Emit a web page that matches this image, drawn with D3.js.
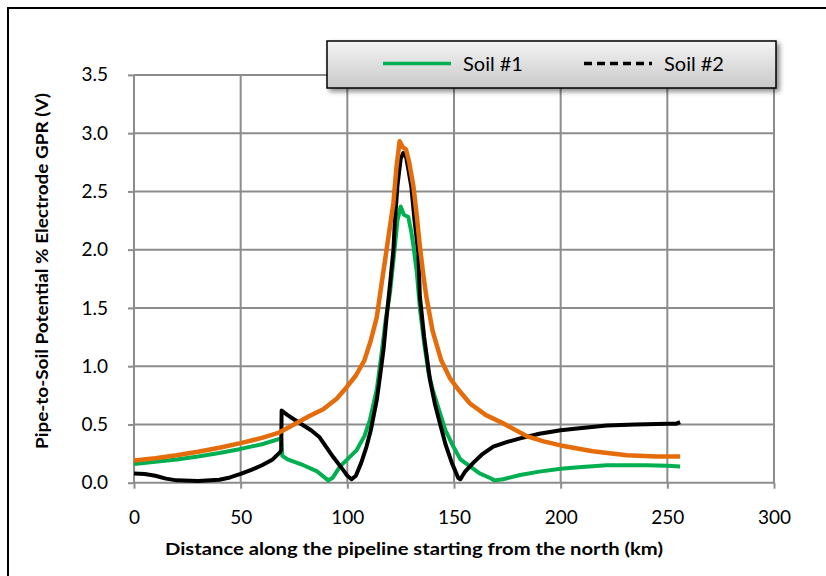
<!DOCTYPE html>
<html>
<head>
<meta charset="utf-8">
<script src="https://cdn.jsdelivr.net/npm/d3@7"></script>
<style>
  body { margin: 0; background: #fff; }
  text { font-family: Lato, "Open Sans", sans-serif; fill: #000; }
</style>
</head>
<body>
<svg width="826" height="576"></svg>
<script>
// Soil #1 (green)
var soil1Km = [0, 10, 20, 30, 40, 50, 60, 69, 69.5, 72, 79.4, 85.6, 89, 91, 93, 96.6, 100, 104.4, 108, 110.6, 113.8, 116, 118, 120, 122.3, 123.5, 125, 126.5, 128.6, 130, 131, 132.6, 134, 136, 138, 140, 143.4, 146, 149.7, 153, 157.5, 162, 166.9, 169, 173, 181, 190, 200, 210, 221.6, 240, 250, 256];
var soil1V = [0.16, 0.18, 0.2, 0.225, 0.255, 0.29, 0.33, 0.38, 0.23, 0.2, 0.15, 0.1, 0.05, 0.02, 0.04, 0.14, 0.2, 0.28, 0.4, 0.54, 0.8, 1.1, 1.4, 1.63, 2.03, 2.25, 2.37, 2.3, 2.28, 2.15, 2.03, 1.8, 1.5, 1.2, 0.95, 0.8, 0.6, 0.45, 0.31, 0.2, 0.14, 0.08, 0.04, 0.02, 0.03, 0.066, 0.095, 0.12, 0.135, 0.15, 0.15, 0.145, 0.14];

// Soil #2 (black)
var soil2Km = [0, 5, 10, 15, 20, 30, 40, 45, 50, 55, 60, 65, 68.4, 69, 69.2, 72, 77.8, 83, 87, 90, 93.4, 98, 100, 102, 104, 106.5, 109, 111, 113.8, 115.3, 117, 118.4, 120, 121.6, 122.3, 123.5, 125, 126.2, 127.5, 128.5, 130, 131.5, 133.3, 134, 136, 138.75, 141, 143.4, 146, 149, 152, 153, 155, 159, 163, 168.4, 175, 181, 190, 200, 210, 221.6, 235, 250, 254, 256];
var soil2V = [0.08, 0.075, 0.06, 0.035, 0.02, 0.015, 0.025, 0.045, 0.075, 0.11, 0.15, 0.2, 0.26, 0.28, 0.62, 0.58, 0.51, 0.45, 0.39, 0.31, 0.22, 0.11, 0.06, 0.03, 0.06, 0.17, 0.31, 0.45, 0.71, 0.91, 1.15, 1.42, 1.7, 2.0, 2.25, 2.55, 2.78, 2.83, 2.8, 2.7, 2.54, 2.25, 1.97, 1.6, 1.25, 0.88, 0.68, 0.51, 0.33, 0.17, 0.04, 0.03, 0.09, 0.17, 0.24, 0.31, 0.35, 0.38, 0.42, 0.45, 0.47, 0.49, 0.5, 0.505, 0.505, 0.52];

// third series (orange, not in legend)
var orangeKm = [0, 10, 20, 30, 40, 50, 60, 68, 75, 82, 88.7, 95, 99.7, 104, 108, 111, 113.8, 116, 118.4, 120, 121.6, 123, 124.5, 126, 127.5, 129, 131, 132.5, 134, 135.5, 137, 140, 144, 148, 152, 157.5, 165, 173, 184, 192, 200, 215, 231, 245, 256];
var orangeV = [0.19, 0.21, 0.235, 0.265, 0.3, 0.34, 0.385, 0.43, 0.5, 0.57, 0.63, 0.72, 0.82, 0.92, 1.05, 1.22, 1.42, 1.7, 2.0, 2.2, 2.4, 2.7, 2.93, 2.88, 2.86, 2.75, 2.54, 2.3, 2.03, 1.8, 1.6, 1.3, 1.05, 0.9, 0.8, 0.68, 0.58, 0.51, 0.4, 0.355, 0.32, 0.27, 0.235, 0.225, 0.225];

var xTicks = [0, 50, 100, 150, 200, 250, 300];
var yTicks = [0, 0.5, 1.0, 1.5, 2.0, 2.5, 3.0, 3.5];

var svg = d3.select("svg");

// chart frame
svg.append("rect")
    .attr("x", 8).attr("y", 8)
    .attr("width", 840).attr("height", 600)
    .attr("fill", "#fff")
    .attr("stroke", "#000")
    .attr("stroke-width", 2);

var x = d3.scaleLinear().domain([0, 300]).range([134, 774]);
var y = d3.scaleLinear().domain([0, 3.5]).range([482.7, 74.9]);

var grid = "#8c8c8c";

// gridlines
svg.append("g")
    .selectAll("line")
    .data(xTicks.slice(1))
    .enter()
    .append("line")
    .attr("x1", function (d) { return x(d); })
    .attr("x2", function (d) { return x(d); })
    .attr("y1", y(3.5)).attr("y2", y(0))
    .attr("stroke", grid).attr("stroke-width", 2);

svg.append("g")
    .selectAll("line")
    .data(yTicks.slice(1))
    .enter()
    .append("line")
    .attr("x1", x(0)).attr("x2", x(300))
    .attr("y1", function (d) { return y(d); })
    .attr("y2", function (d) { return y(d); })
    .attr("stroke", grid).attr("stroke-width", 2);

// axes
var x_axis = d3.axisBottom(x)
    .tickValues(xTicks)
    .tickSize(6)
    .tickPadding(22)
    .tickFormat(d3.format("d"));

var gx = svg.append("g")
    .attr("transform", "translate(0," + y(0) + ")")
    .call(x_axis);

var y_axis = d3.axisLeft(y)
    .tickValues(yTicks)
    .tickSize(6)
    .tickPadding(20)
    .tickFormat(d3.format(".1f"));

var gy = svg.append("g")
    .attr("transform", "translate(" + x(0) + ",0)")
    .call(y_axis);

[gx, gy].forEach(function (g) {
    g.select(".domain").attr("stroke", grid).attr("stroke-width", 2);
    g.selectAll(".tick line").attr("stroke", grid).attr("stroke-width", 2);
    g.selectAll(".tick text")
        .attr("font-family", "Lato, sans-serif")
        .attr("font-size", 19)
        .attr("fill", "#000");
});
gy.select(".domain").attr("d", "M0," + y(3.5) + "V" + y(0));
gx.select(".domain").attr("d", "M" + x(0) + ",0H" + x(300));

// series
var line = d3.line()
    .x(function (d) { return x(d[0]); })
    .y(function (d) { return y(d[1]); });

function draw(km, v, color, w) {
    svg.append("path")
        .datum(d3.zip(km, v))
        .attr("d", line)
        .attr("fill", "none")
        .attr("stroke", color)
        .attr("stroke-width", w)
        .attr("stroke-linejoin", "round");
}

draw(soil1Km, soil1V, "#00b050", 4);
draw(soil2Km, soil2V, "#000000", 4);
draw(orangeKm, orangeV, "#e46c0a", 4.5);

// axis titles
svg.append("text")
    .attr("transform", "translate(48,271) rotate(-90)")
    .attr("text-anchor", "middle")
    .attr("font-size", 17)
    .attr("font-weight", "bold")
    .attr("textLength", 356)
    .attr("lengthAdjust", "spacingAndGlyphs")
    .text("Pipe-to-Soil Potential % Electrode GPR (V)");

svg.append("text")
    .attr("x", 414).attr("y", 555)
    .attr("text-anchor", "middle")
    .attr("font-size", 17)
    .attr("font-weight", "bold")
    .attr("textLength", 498)
    .attr("lengthAdjust", "spacingAndGlyphs")
    .text("Distance along the pipeline starting from the north (km)");

// legend
var defs = svg.append("defs");
var grad = defs.append("linearGradient")
    .attr("id", "lg").attr("x1", 0).attr("y1", 0).attr("x2", 0).attr("y2", 1);
grad.append("stop").attr("offset", "0%").attr("stop-color", "#f4f4f4");
grad.append("stop").attr("offset", "100%").attr("stop-color", "#c9c9c9");
defs.append("filter")
    .attr("id", "sh").attr("x", "-10%").attr("y", "-30%").attr("width", "130%").attr("height", "180%")
    .append("feDropShadow")
    .attr("dx", 3).attr("dy", 3).attr("stdDeviation", 2.5)
    .attr("flood-color", "#000").attr("flood-opacity", 0.45);

var legend = svg.append("g");
legend.append("rect")
    .attr("x", 327).attr("y", 41)
    .attr("width", 449).attr("height", 47)
    .attr("fill", "url(#lg)")
    .attr("stroke", "#000")
    .attr("stroke-width", 1.5)
    .attr("filter", "url(#sh)");

var legendItems = [
    { name: "Soil #1", color: "#00b050", dash: null, x: 383 },
    { name: "Soil #2", color: "#000000", dash: "8,5", x: 584 }
];

legendItems.forEach(function (d) {
    legend.append("line")
        .attr("x1", d.x).attr("x2", d.x + 68)
        .attr("y1", 63.5).attr("y2", 63.5)
        .attr("stroke", d.color)
        .attr("stroke-width", 3.5)
        .attr("stroke-dasharray", d.dash);
    legend.append("text")
        .attr("x", d.x + 80).attr("y", 70.5)
        .attr("font-size", 20)
        .text(d.name);
});
</script>
</body>
</html>
